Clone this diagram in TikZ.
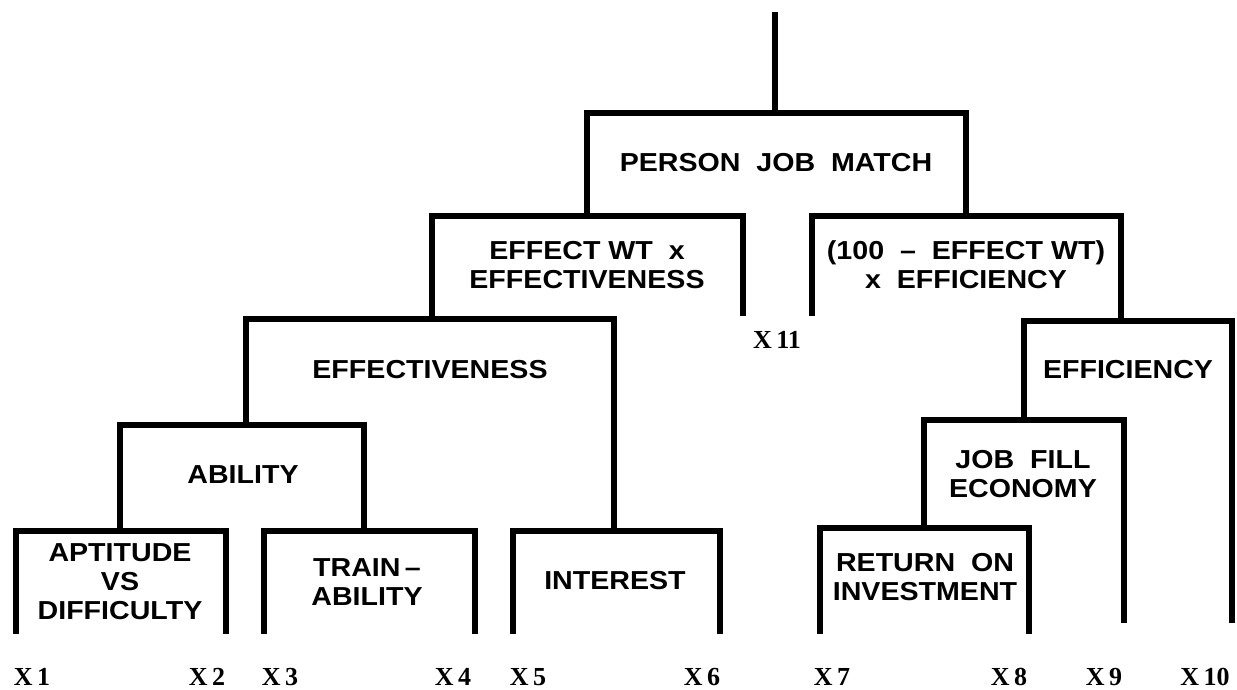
\documentclass[tikz,border=0pt]{standalone}
\usepackage{fontspec}
\setmainfont{Liberation Serif}
\newfontfamily\boxfont[FakeStretch=1.1,Ligatures=TeX]{Liberation Sans}
\begin{document}
\begin{tikzpicture}[x=0.5pt,y=-0.5pt,line cap=butt,line join=miter,
  tree/.style={line width=2.8pt},
  lbl/.style={font=\boxfont\bfseries\fontsize{13}{14.5}\selectfont,align=center,inner sep=0pt},
  xlbl/.style={font=\bfseries\fontsize{13}{14}\selectfont,inner sep=0pt}]
  \useasboundingbox (0,0) rectangle (1237,690);
  % stem and boxes, open at the bottom
  \draw[tree] (775,12)--(775,113);
  \draw[tree] (587,213)--(587,113)--(966,113)--(966,213);
  \draw[tree] (432,317)--(432,216)--(743,216)--(743,316);
  \draw[tree] (812,316)--(812,216)--(1121,216)--(1121,321);
  \draw[tree] (246,425)--(246,319)--(614,319)--(614,528);
  \draw[tree] (1024,420)--(1024,321)--(1232,321)--(1232,623);
  \draw[tree] (120,528)--(120,425)--(364,425)--(364,528);
  \draw[tree] (16,634)--(16,531)--(226,531)--(226,634);
  \draw[tree] (264,634)--(264,531)--(475,531)--(475,634);
  \draw[tree] (513,634)--(513,531)--(720,531)--(720,634);
  \draw[tree] (924,528)--(924,420)--(1124,420)--(1124,623);
  \draw[tree] (820,634)--(820,528)--(1029,528)--(1029,634);
  % box texts
  \node[lbl] (match) at (776,163) {PERSON\ \ JOB\ \ MATCH};
  \node[lbl] (effwt) at (587,265) {EFFECT WT\ \ x\\EFFECTIVENESS};
  \node[lbl] (effcwt) at (966,265) {(100\ \ \textendash\ \ EFFECT WT)\\x\ \ EFFICIENCY};
  \node[lbl] (effect) at (430,370) {EFFECTIVENESS};
  \node[lbl] (effic) at (1128,370) {EFFICIENCY};
  \node[lbl] (ability) at (243,475) {ABILITY};
  \node[lbl] (aptit) at (120,582) {APTITUDE\\VS\\DIFFICULTY};
  \node[lbl] (train) at (367,582) {TRAIN\,\textendash\\ABILITY};
  \node[lbl] (inter) at (615,581) {INTEREST};
  \node[lbl] (jobfill) at (1023,474) {JOB\ \ FILL\\ECONOMY};
  \node[lbl] (roi) at (925,577) {RETURN\ \ ON\\INVESTMENT};
  % inputs
  \foreach \n/\x in {1/32,2/207,3/280,4/453,5/528,6/702,7/832,8/1009,9/1104,10/1205}
    \node[xlbl] (x\n) at (\x,677) {X\,\n};
  \node[xlbl] (x11) at (777,340) {X\,11};
\end{tikzpicture}
\end{document}
